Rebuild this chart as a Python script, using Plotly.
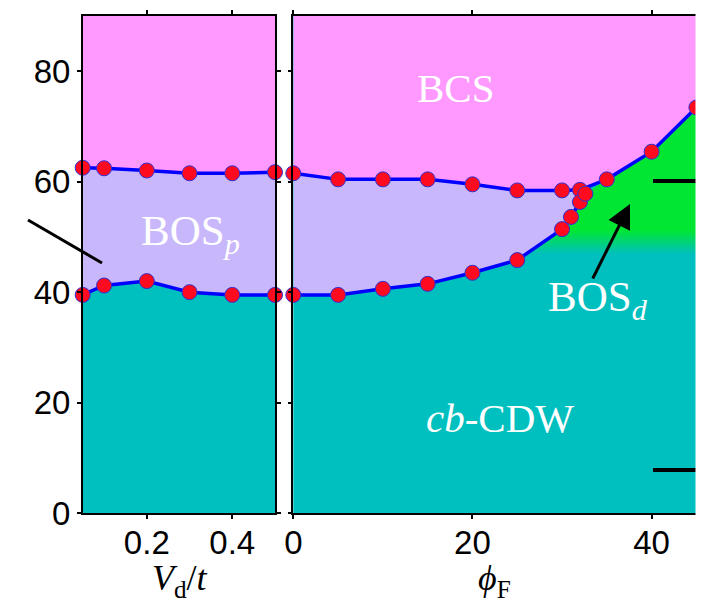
import plotly.graph_objects as go

# ---------------- data ----------------
vd = [0.05, 0.1, 0.2, 0.3, 0.4, 0.5]
vd_upper = [62.5, 62.4, 62.0, 61.5, 61.5, 61.7]
vd_lower = [39.5, 41.2, 42.0, 40.0, 39.5, 39.5]

phi_upper = [0, 5, 10, 15, 20, 25, 30, 32]
upper_vals = [61.5, 60.4, 60.4, 60.4, 59.5, 58.4, 58.4, 58.5]
phi_lower = [0, 5, 10, 15, 20, 25, 30, 31, 32, 32.6]
lower_vals = [39.5, 39.5, 40.6, 41.5, 43.5, 45.8, 51.4, 53.6, 56.3, 57.8]
phi_bcs = [32, 35, 40, 45]
bcs_vals = [58.5, 60.4, 65.4, 73.4]

y_ticks = [0, 20, 40, 60, 80]
vd_ticks = [0.2, 0.4]
phi_ticks = [0, 20, 40]
y_max = 90

# ---------------- colours ----------------
PINK = "#FF99FF"
LAV = "#C9B7FC"
TEAL = "#00BFBF"
GREEN = "#00E633"
RED = "#FF0A1E"
BLUE = "#0000FF"

W, H = 711, 605
def px(x):
    return x / W
def py(y):
    return 1 - y / H

fig = go.Figure()

def poly(x, y, color, xa, ya, **kw):
    fig.add_trace(go.Scatter(x=x, y=y, mode="lines", fill="toself", fillcolor=color,
                             line=dict(width=0), hoverinfo="skip", showlegend=False,
                             xaxis=xa, yaxis=ya, **kw))

# ---- left panel regions ----
poly(vd + [vd[-1], vd[0]], vd_upper + [y_max, y_max], PINK, "x", "y")
poly(vd + vd[::-1], vd_upper + vd_lower[::-1], LAV, "x", "y")

# ---- right panel regions ----
full_upper_x = phi_upper + phi_bcs[1:]
full_upper_y = upper_vals + bcs_vals[1:]
poly(full_upper_x + [phi_bcs[-1], 0], full_upper_y + [y_max, y_max], PINK, "x2", "y2")

# BOS_d green region with vertical gradient into cb-CDW
gx = phi_lower[3:] + phi_bcs[1:] + [phi_bcs[-1], phi_lower[3]]
gy = lower_vals[3:] + bcs_vals[1:] + [30, 30]
fig.add_trace(go.Scatter(x=gx, y=gy, mode="lines", fill="toself",
                         fillgradient=dict(type="vertical", start=46.8, stop=51.2,
                                           colorscale=[[0, TEAL], [1, GREEN]]),
                         line=dict(width=0), hoverinfo="skip", showlegend=False,
                         xaxis="x2", yaxis="y2"))

poly(phi_upper + phi_lower[::-1], upper_vals + lower_vals[::-1], LAV, "x2", "y2")

# ---- boundary lines with markers ----
def line(x, y, xa, ya):
    fig.add_trace(go.Scatter(x=x, y=y, mode="lines+markers",
                             line=dict(color=BLUE, width=3.5),
                             marker=dict(size=15, color=RED, line=dict(color="#3030D0", width=1)),
                             cliponaxis=False, hoverinfo="skip", showlegend=False,
                             xaxis=xa, yaxis=ya))

line(vd, vd_upper, "x", "y")
line(vd, vd_lower, "x", "y")
line(full_upper_x, full_upper_y, "x2", "y2")
line(phi_lower, lower_vals, "x2", "y2")

# ---------------- axes ----------------
ydom = [py(513.3), py(15.7)]
axcommon = dict(showline=True, mirror="ticks", linecolor="black", linewidth=1.5,
                ticks="outside", ticklen=4, tickwidth=1.5, tickcolor="black",
                showgrid=False, zeroline=False, automargin=False,
                tickfont=dict(family="Liberation Sans", size=33, color="black"))

fig.update_layout(
    width=W, height=H,
    margin=dict(l=0, r=0, t=0, b=0),
    paper_bgcolor="white",
    plot_bgcolor=TEAL,
    template="none",
    showlegend=False,
    xaxis=dict(domain=[px(82.7), px(275)], range=[0.05, 0.5], tickvals=vd_ticks,
               ticktext=["0.2", "0.4"], anchor="y", ticklabelstandoff=-5, **axcommon),
    yaxis=dict(domain=ydom, range=[0, y_max], tickvals=y_ticks, anchor="x", **axcommon),
    xaxis2=dict(domain=[px(293.3), px(696.4)], range=[0, 45], tickvals=phi_ticks,
                anchor="y2", ticklabelstandoff=-5, **axcommon),
    yaxis2=dict(domain=ydom, range=[0, y_max], tickvals=y_ticks, showticklabels=False,
                anchor="x2", **axcommon),
)

SERIF = "Liberation Serif"
ann = []
def text(x, y, t, size=41, color="white"):
    ann.append(dict(x=px(x), y=py(y), xref="paper", yref="paper", text=t, showarrow=False,
                    xanchor="center", yanchor="middle",
                    font=dict(family=SERIF, size=size, color=color)))

text(456, 88, "BCS")
text(191, 234, "BOS<sub><i>p</i></sub>", size=43)
text(598, 300, "BOS<sub><i>d</i></sub>", size=43)
text(500, 418, "<i>cb</i>-CDW")
text(180, 580, "<i>V</i><sub>d</sub>/<i>t</i>", size=36, color="black")
text(494, 580, "<i>ϕ</i><sub>F</sub>", size=36, color="black")

# arrow pointing to BOS_d
ann.append(dict(x=px(630), y=py(204), xref="paper", yref="paper", ax=592 - 630, ay=280 - 204,
                axref="pixel", ayref="pixel", showarrow=True, arrowhead=2, arrowsize=1.6,
                arrowwidth=3, arrowcolor="black", text=""))
fig.update_layout(annotations=ann)

# fragments of annotations / crop
shapes = [
    dict(type="line", xref="paper", yref="paper", x0=px(28), y0=py(220), x1=px(102), y1=py(263),
         line=dict(color="black", width=3)),
    dict(type="line", xref="paper", yref="paper", x0=px(653), y0=py(181), x1=px(696), y1=py(181),
         line=dict(color="black", width=4)),
    dict(type="line", xref="paper", yref="paper", x0=px(653), y0=py(470), x1=px(696), y1=py(470),
         line=dict(color="black", width=4)),
    dict(type="rect", xref="paper", yref="paper", x0=px(695.5), y0=0, x1=1, y1=1,
         fillcolor="white", line=dict(width=0), layer="above"),
]
fig.update_layout(shapes=shapes)

fig.write_html("out.html")
